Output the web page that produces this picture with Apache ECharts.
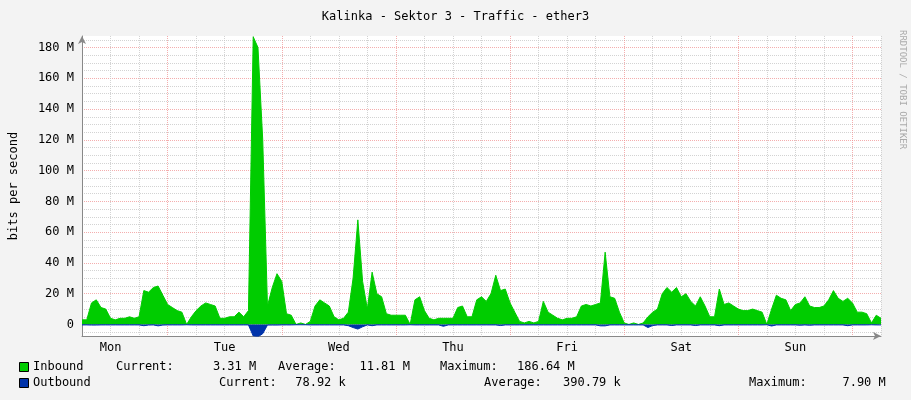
<!DOCTYPE html>
<html>
<head>
<meta charset="utf-8">
<script src="https://cdn.jsdelivr.net/npm/echarts@6/dist/echarts.min.js"></script>
<style>
  html, body { margin: 0; padding: 0; background: #f3f3f3; }
  #chart { width: 911px; height: 400px; }
</style>
</head>
<body>
<div id="chart"></div>
<script>
// hourly samples, first one is Mon 06:00 (hour -18 relative to Tue 00:00)
const startHour = -18;
const dayNames = ['Mon', 'Tue', 'Wed', 'Thu', 'Fri', 'Sat', 'Sun'];

// inbound, Mbit/s
const inbound = [
  3, 3, 14, 16, 11, 10, 4, 3, 4, 4,
  5, 4, 5, 22, 21, 24, 25, 19, 13, 11,
  9, 8, 0, 5, 9, 12, 14, 13, 12, 4,
  4, 5, 5, 8, 5, 9, 187, 180, 120, 12,
  24, 33, 28, 7, 6, 0, 1, 0, 2, 12,
  16, 14, 12, 5, 3, 4, 8, 30, 68, 28,
  10, 34, 20, 18, 7, 6, 6, 6, 6, 0,
  16, 18, 9, 4, 3, 4, 4, 4,
  4, 11, 12, 5, 5, 16, 18, 15, 20, 32,
  22, 23, 14, 8, 2, 1, 2, 1, 2, 15,
  8, 6, 4, 3, 4, 4, 5, 12, 13, 12,
  13, 14, 47, 18, 17, 8, 1, 0, 1, 0,
  1, 5, 8, 10, 20, 24, 21, 24, 18, 20,
  15, 12, 18, 12, 5, 5, 23, 13, 14, 12,
  10, 9, 9, 10, 9, 8, 0, 10, 19, 17,
  16, 9, 13, 14, 18, 12, 11, 11, 12, 16,
  22, 17, 15, 17, 14, 8, 8, 7, 1, 6,
  4
];

// outbound, Mbit/s (drawn below zero)
const outbound = [
  -0.3, -0.3, -0.4, -0.4, -0.3, -0.3, -0.3, -0.3, -0.3, -0.3,
  -0.3, -0.3, -0.3, -0.8, -0.4, -0.3, -0.9, -0.4, -0.3, -0.3,
  -0.3, -0.3, -0.2, -0.3, -0.3, -0.3, -0.3, -0.3, -0.3, -0.3,
  -0.3, -0.3, -0.3, -0.3, -0.3, -0.3, -7.5, -8, -6, -0.4,
  -0.4, -0.4, -0.3, -0.3, -0.3, -0.2, -0.2, -0.2, -0.3, -0.3,
  -0.3, -0.3, -0.3, -0.3, -0.3, -0.3, -0.8, -2, -3, -1.5,
  -0.3, -0.8, -0.3, -0.3, -0.3, -0.3, -0.3, -0.3, -0.3, -0.2,
  -0.3, -0.3, -0.3, -0.3, -0.3, -0.3, -1.2, -0.3,
  -0.3, -0.3, -0.3, -0.3, -0.3, -0.3, -0.3, -0.3, -0.3, -0.3,
  -0.7, -0.3, -0.3, -0.3, -0.3, -0.3, -0.3, -0.3, -0.3, -0.3,
  -0.3, -0.3, -0.3, -0.3, -0.3, -0.3, -0.3, -0.3, -0.3, -0.3,
  -0.3, -0.9, -0.9, -0.3, -0.3, -0.3, -0.3, -0.3, -0.3, -0.3,
  -0.3, -2, -0.7, -0.3, -0.3, -0.3, -0.7, -0.3, -0.3, -0.3,
  -0.3, -0.7, -0.3, -0.3, -0.3, -0.3, -0.8, -0.3, -0.3, -0.3,
  -0.3, -0.3, -0.3, -0.3, -0.3, -0.3, -0.2, -1, -0.3, -0.3,
  -0.3, -0.3, -0.3, -0.5, -0.3, -0.5, -0.3, -0.3, -0.3, -0.3,
  -0.3, -0.3, -0.3, -0.8, -0.3, -0.3, -0.3, -0.3, -0.2, -0.3,
  -0.3
];

const mono = '"DejaVu Sans Mono", monospace';
const grey = 'rgba(200,200,200,0.8)';
const red = 'rgba(240,140,140,0.7)';
const none = 'rgba(0,0,0,0)';

const inData = inbound.map((v, i) => [startHour + i, v]);
const outData = outbound.map((v, i) => [startHour + i, v]);

const chart = echarts.init(document.getElementById('chart'));

function txt(x, y, s) {
  return {
    type: 'text', left: x, top: y,
    style: { text: s, font: '12px ' + mono, fill: '#000' }
  };
}

const option = {
  animation: false,
  backgroundColor: '#f3f3f3',
  title: {
    text: 'Kalinka - Sektor 3 - Traffic - ether3',
    left: 'center', top: 6,
    textStyle: { fontFamily: mono, fontSize: 12, fontWeight: 'normal', color: '#000' }
  },
  grid: { left: 80, right: 30, top: 36, bottom: 64, backgroundColor: '#fff', show: true, borderWidth: 0 },
  xAxis: {
    type: 'value', min: -18, max: 150, interval: 6,
    axisLine: { onZero: false, lineStyle: { color: '#888' }, symbol: ['none', 'arrow'], symbolSize: [6, 8] },
    axisTick: { show: false },
    axisLabel: {
      fontFamily: mono, fontSize: 12, color: '#000', margin: 6,
      formatter: v => (((v % 24) + 24) % 24 === 12 ? dayNames[Math.floor(v / 24) + 1] : '')
    },
    splitLine: { show: true, lineStyle: { type: 'dotted', color: [grey, grey, grey, red] } }
  },
  yAxis: {
    type: 'value', min: -7.5, max: 187.5, interval: 2.5,
    name: 'bits per second', nameLocation: 'middle', nameGap: 62, nameRotate: 90,
    nameTextStyle: { fontFamily: mono, fontSize: 12, color: '#000' },
    axisLine: { show: true, onZero: false, lineStyle: { color: '#888' }, symbol: ['none', 'arrow'], symbolSize: [6, 8] },
    axisTick: { show: false },
    axisLabel: {
      fontFamily: mono, fontSize: 12, color: '#000', margin: 8,
      formatter: v => (Math.abs(v % 20) < 1e-9 ? (v === 0 ? '0' : v + ' M') : '')
    },
    splitLine: {
      show: true,
      lineStyle: { type: 'dotted', color: [none, grey, none, red, none, grey, none, grey] }
    }
  },
  series: [
    {
      name: 'Inbound', type: 'line', data: inData, showSymbol: false,
      lineStyle: { width: 1, color: '#00cc00' }, areaStyle: { color: '#00cc00', opacity: 1 }, z: 2
    },
    {
      name: 'Outbound', type: 'line', data: outData, showSymbol: false,
      lineStyle: { width: 1, color: '#0033aa' }, areaStyle: { color: '#0033aa', opacity: 1 }, z: 3
    }
  ],
  graphic: [
    { type: 'rect', left: 19, top: 362, shape: { width: 9, height: 9 }, style: { fill: '#00cc00', stroke: '#000', lineWidth: 1 } },
    { type: 'rect', left: 19, top: 378, shape: { width: 9, height: 9 }, style: { fill: '#0033aa', stroke: '#000', lineWidth: 1 } },
    txt(33, 361, 'Inbound'),
    txt(116, 361, 'Current:'),
    txt(184, 361, '    3.31 M'),
    txt(278, 361, 'Average:'),
    txt(345, 361, '  11.81 M'),
    txt(440, 361, 'Maximum:'),
    txt(517, 361, '186.64 M'),
    txt(33, 377, 'Outbound'),
    txt(219, 377, 'Current:'),
    txt(288, 377, ' 78.92 k'),
    txt(484, 377, 'Average:'),
    txt(563, 377, '390.79 k'),
    txt(749, 377, 'Maximum:'),
    txt(828, 377, '  7.90 M'),
    {
      type: 'text', left: 898, top: 30, rotation: -Math.PI / 2,
      style: { text: 'RRDTOOL / TOBI OETIKER', font: '9px ' + mono, fill: '#aaa' }
    }
  ]
};

chart.setOption(option);
</script>
</body>
</html>
